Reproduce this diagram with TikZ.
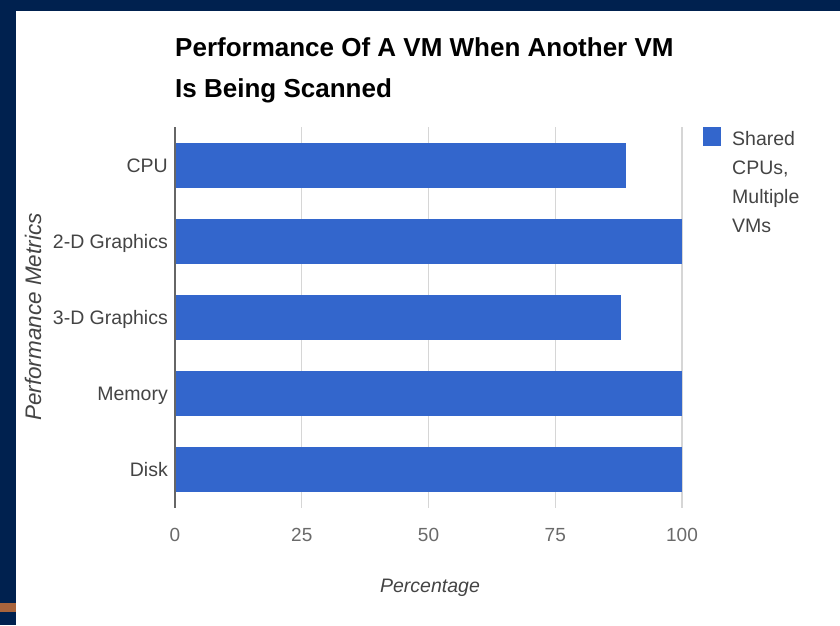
\documentclass[tikz,border=0pt]{standalone}
\usepackage{fontspec}
\setmainfont{Liberation Sans}
\usetikzlibrary{positioning}
\definecolor{navy}{HTML}{00214F}
\definecolor{barblue}{HTML}{3366CC}
\definecolor{labelgrey}{HTML}{444444}
\definecolor{tickgrey}{HTML}{6A6A6A}
\definecolor{gridgrey}{HTML}{D6D6D6}
\definecolor{axisgrey}{HTML}{666666}
\definecolor{rust}{HTML}{A8643C}

\begin{document}
\begin{tikzpicture}[x=1pt,y=-1pt,
    every node/.style={inner sep=0pt},
    titletext/.style={anchor=base west,font=\bfseries\fontsize{26}{30}\selectfont},
    catlabel/.style={anchor=base east,text=labelgrey,font=\fontsize{19.5}{22}\selectfont},
    ticklabel/.style={anchor=base,text=tickgrey,font=\fontsize{19}{22}\selectfont},
    axistitle/.style={text=labelgrey,font=\itshape\fontsize{19.5}{22}\selectfont},
    gridline/.style={gridgrey,line width=1.3pt}]
  \useasboundingbox (0,0) rectangle (840,625);
  % frame of the slide
  \fill[navy] (0,0) rectangle (840,625);
  \fill[white] (16,11) rectangle (840,625);
  \fill[rust] (0,603) rectangle (16,612);
  % title
  \node[titletext] (title) at (175,56.5) {Performance Of A VM When Another VM};
  \node[titletext] (title2) at (175,97.5) {Is Being Scanned};
  % grid, 0 at x=175 and 100 at x=682
  \foreach \t in {25,50,75,100} {
    \draw[gridline] ({175+5.07*\t},127) -- ({175+5.07*\t},508);
  }
  \foreach \t in {0,25,50,75,100} {
    \node[ticklabel] (tick\t) at ({175+5.07*\t},541) {\t};
  }
  % bars
  \foreach \val/\name [count=\i from 0] in {89/CPU,100/2-D Graphics,88/3-D Graphics,100/Memory,100/Disk} {
    \fill[barblue] (175,{165+76.2*\i-22.5}) rectangle ({175+5.07*\val},{165+76.2*\i+22.5});
    \node[catlabel] (cat\i) at (168,{165+76.2*\i+7}) {\name};
  }
  \draw[axisgrey,line width=1.5pt] (175,127) -- (175,508);
  % axis titles
  \node[axistitle,anchor=base] (xtitle) at (430,592) {Percentage};
  \node[axistitle,font=\itshape\fontsize{22.5}{24}\selectfont,rotate=90] (ytitle) at (33,317) {Performance Metrics};
  % legend
  \fill[barblue] (703,127) rectangle (721,146);
  \node[anchor=north west,align=left,text=labelgrey,font=\fontsize{19.5}{29}\selectfont] (legend) at (732,131) {Shared\\CPUs,\\Multiple\\VMs};
\end{tikzpicture}
\end{document}
